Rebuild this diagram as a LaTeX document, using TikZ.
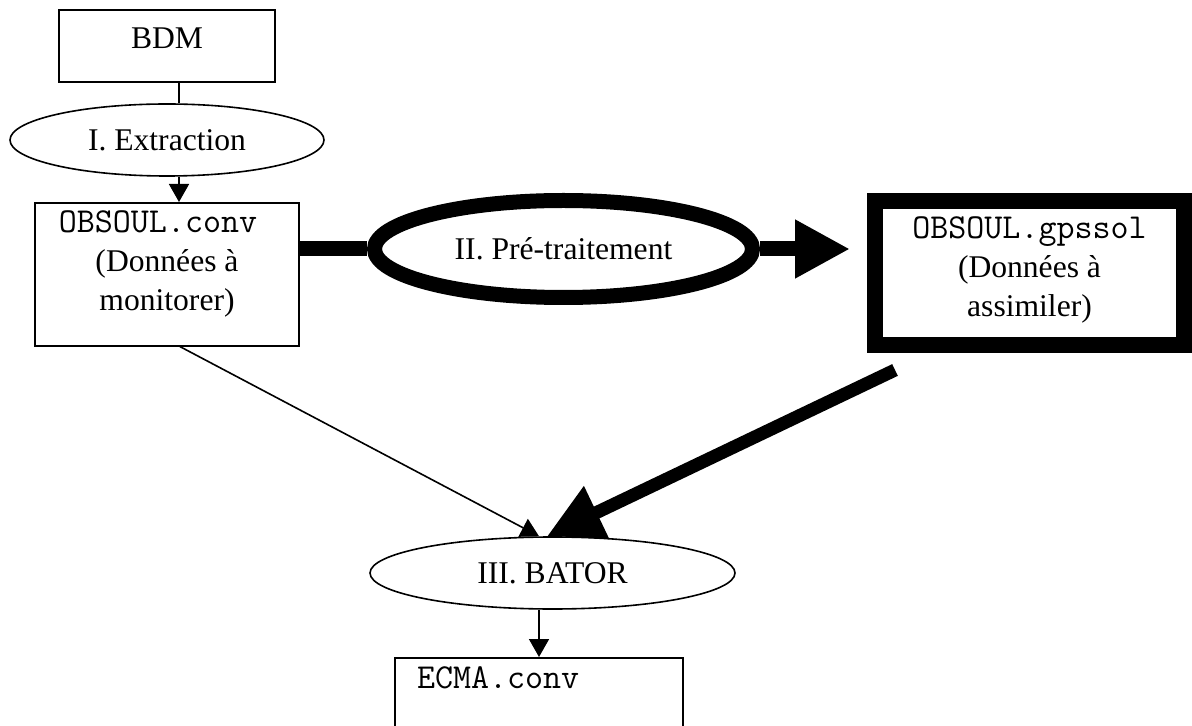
\documentclass[tikz,border=0pt]{standalone}
\usepackage{fontspec}
\setmainfont{Liberation Serif}
\newcommand{\filename}[1]{{\ttfamily\fontsize{17.5pt}{19.5pt}\selectfont #1}}
\usetikzlibrary{shapes.geometric,arrows.meta}

\tikzset{
  filebox/.style={draw, rectangle, line width=0.8pt, inner xsep=0pt, inner ysep=0pt, align=center},
  stage/.style={draw, ellipse, line width=0.8pt, inner sep=0pt, minimum width=157pt, minimum height=36pt, fill=white},
  flowline/.style={line width=0.8pt},
  flowarrow/.style={line width=0.8pt, -{Triangle[length=9pt,width=10pt]}},
  boldline/.style={line width=7.5pt},
  bigarrow/.style={line width=#1, -{Triangle[length=27.5pt,width=27.5pt]}},
  bigarrow/.default=7.5pt
}

\begin{document}
\begin{tikzpicture}[x=0.5pt, y=-0.5pt, font=\fontsize{15.8pt}{19.5pt}\selectfont]
  \useasboundingbox (0,0) rectangle (1192,726);

  % Define nodes
  \node[filebox, anchor=north, minimum width=108pt, text height=19.5pt, text depth=16.5pt] (bdm) at (167,9) {BDM};
  \node[stage] (extr) at (167,140) {I. Extraction};
  \node[filebox, anchor=north, minimum width=132pt, text height=54pt, text depth=17.5pt] (conv) at (167,202)
    {\filename{OBSOUL.conv\hphantom{x}}\\(Données à\\monitorer)};
  \node[stage, line width=7.5pt, minimum width=189pt, minimum height=48.5pt] (pretr) at (563.5,249) {II. Pré-traitement};
  \node[filebox, line width=8pt, minimum width=154.5pt, text height=58pt, text depth=14pt] (gpssol) at (1029.5,273)
    {\filename{OBSOUL.gpssol}\\(Données à\\assimiler)};
  \node[stage, minimum width=182.5pt] (bator) at (552.5,573) {III. BATOR};
  \node[filebox, anchor=north, align=left, inner xsep=11pt, text width=122pt, text height=15.5pt, text depth=40pt] (ecma) at (539,657)
    {\filename{ECMA.conv}};
  \coordinate (gout) at ([shift={(14pt,-8.5pt)}]gpssol.south west);

  % Connect the nodes
  \draw[flowline] ([xshift=6pt]bdm.south) -- ([xshift=6pt]extr.north);
  \draw[flowarrow] ([xshift=6pt]extr.south) -- ([xshift=6pt]conv.north);
  \draw[boldline] (conv.east |- pretr.west) -- (pretr.west);
  \draw[bigarrow, shorten >=8.5pt] (pretr.east) -- (pretr.east -| gpssol.west);
  \draw[flowarrow] ([xshift=6.5pt]conv.south) -- ([xshift=-6.75pt]bator.north);
  \draw[bigarrow=6.5pt] (gout) -- ([xshift=-2.75pt]bator.north);
  \draw[flowarrow] ([xshift=-6.75pt]bator.south) -- (ecma.north);

\end{tikzpicture}
\end{document}
